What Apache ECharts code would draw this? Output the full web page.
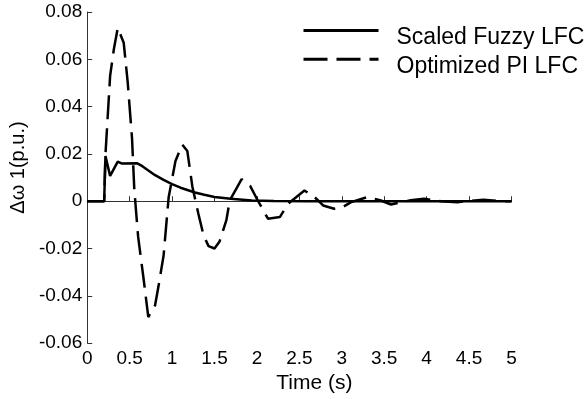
<!DOCTYPE html>
<html>
<head>
<meta charset="utf-8">
<script src="https://cdn.jsdelivr.net/npm/echarts@6/dist/echarts.min.js"></script>
<style>
  html, body { margin: 0; padding: 0; background: #fff; }
  #main { width: 585px; height: 399px; }
</style>
</head>
<body>
<div id="main"></div>
<script>
// values
var xTicks = [0, 0.5, 1, 1.5, 2, 2.5, 3, 3.5, 4, 4.5, 5];
var yTicks = [-0.06, -0.04, -0.02, 0, 0.02, 0.04, 0.06, 0.08];

var fuzzyTime = [0, 0.2, 0.215, 0.27, 0.36, 0.41, 0.59, 0.65, 0.7, 0.8, 0.9, 1.0, 1.1, 1.27, 1.38, 1.5, 1.69, 1.94, 2.2, 2.6, 3, 5];
var fuzzyVal  = [0, 0, 0.0191, 0.0107, 0.0167, 0.0159, 0.016, 0.0148, 0.0135, 0.011, 0.009, 0.0072, 0.0057, 0.0037, 0.0027, 0.0018, 0.001, 0.0003, 0.0001, 0, 0, 0];

var piTime = [0, 0.2, 0.215, 0.27, 0.313, 0.36, 0.43, 0.478, 0.528, 0.555, 0.6, 0.665, 0.72, 0.8, 0.84, 0.9,
  0.96, 1.04, 1.12, 1.18, 1.24, 1.31, 1.37, 1.43, 1.5, 1.56, 1.64, 1.68, 1.82, 1.92, 2.01, 2.13, 2.27,
  2.37, 2.44, 2.56, 2.68, 2.78, 2.91, 3.01, 3.11, 3.3, 3.46, 3.58, 3.81, 3.97, 4.17, 4.36, 4.67, 4.87, 5];
var piVal = [0, 0, 0.0197, 0.053, 0.064, 0.0733, 0.067, 0.05, 0.0267, 0.005, -0.015, -0.033, -0.049, -0.044, -0.036, -0.023,
  0.0017, 0.017, 0.0239, 0.0212, 0.006, -0.0053, -0.0143, -0.019, -0.02, -0.017, -0.008, 0.0003, 0.0093, 0.0065, 0.0003, -0.0074, -0.0067,
  -0.001, 0.001, 0.0045, 0.0017, -0.0018, -0.0032, -0.0025, -0.0004, 0.0017, 0.0003, -0.0014, 0.0004, 0.001, 0, -0.0004, 0.0006, 0, 0];

function zip(t, v) {
  var res = [];
  for (var i = 0; i < t.length; i++) res.push([t[i], v[i]]);
  return res;
}

var font = 'Liberation Sans, Arial, sans-serif';
var chart = echarts.init(document.getElementById('main'));

chart.setOption({
  animation: false,
  grid: { left: 85, top: 12, right: 73.5, bottom: 51, containLabel: false },
  legend: {
    orient: 'vertical',
    left: 297,
    top: 20,
    itemWidth: 75,
    itemHeight: 14,
    itemGap: 4,
    itemStyle: { opacity: 0 },
    lineStyle: { width: 3 },
    formatter: '{t|{name}}',
    textStyle: {
      fontFamily: font, fontSize: 23, color: '#000',
      rich: { t: { fontFamily: font, fontSize: 23, color: '#000', padding: [15, 0, 0, 13] } }
    },
    data: ['Scaled Fuzzy LFC', 'Optimized PI LFC']
  },
  xAxis: {
    type: 'value',
    min: 0, max: 5, interval: 0.5,
    name: 'Time (s)',
    nameLocation: 'middle',
    nameGap: 29,
    nameTextStyle: { fontFamily: font, fontSize: 21, color: '#000', padding: [0, 0, 0, 30] },
    axisLine: { lineStyle: { color: '#333', width: 1 } },
    axisTick: { inside: true, length: 5, lineStyle: { color: '#333' } },
    axisLabel: {
      fontFamily: font, fontSize: 19, color: '#000', margin: 6,
      formatter: function (v) { return xTicks.indexOf(v) >= 0 ? String(v) : ''; }
    },
    splitLine: { show: false }
  },
  yAxis: {
    type: 'value',
    min: -0.06, max: 0.08, interval: 0.02,
    name: 'Δω 1(p.u.)',
    nameLocation: 'middle',
    nameRotate: 90,
    nameGap: 52,
    nameTextStyle: { fontFamily: font, fontSize: 20, color: '#000', padding: [0, 0, 0, 20] },
    axisLine: { show: true, lineStyle: { color: '#333', width: 1 } },
    axisTick: { show: true, inside: true, length: 5, lineStyle: { color: '#333' } },
    axisLabel: {
      fontFamily: font, fontSize: 19, color: '#000', margin: 5,
      formatter: function (v) {
        var r = Math.round(v * 100) / 100;
        return r === 0 ? '0' : r.toFixed(2);
      }
    },
    splitLine: { show: false }
  },
  series: [
    {
      name: 'Scaled Fuzzy LFC',
      type: 'line',
      symbol: 'none',
      color: '#000',
      lineStyle: { color: '#000', width: 2.5 },
      data: zip(fuzzyTime, fuzzyVal),
      z: 3
    },
    {
      name: 'Optimized PI LFC',
      type: 'line',
      symbol: 'none',
      color: '#000',
      lineStyle: { color: '#000', width: 2.5, type: [24, 9] },
      data: zip(piTime, piVal),
      z: 2
    }
  ]
});
</script>
</body>
</html>
